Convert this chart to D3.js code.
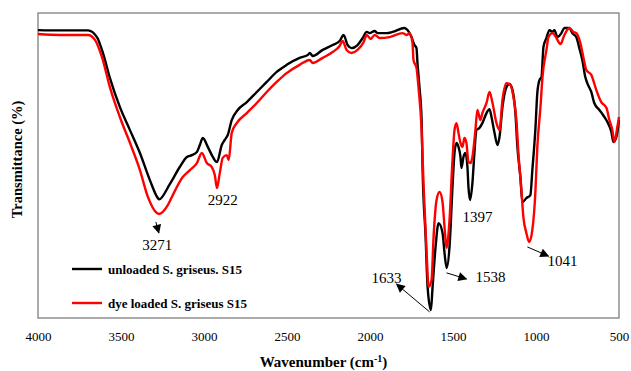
<!DOCTYPE html>
<html>
<head>
<meta charset="utf-8">
<script src="https://cdn.jsdelivr.net/npm/d3@7"></script>
<style>
  html, body { margin: 0; padding: 0; background: #fff; }
  svg { display: block; }
</style>
</head>
<body>
<svg id="chart" width="631" height="371"></svg>
<script>
// FTIR spectra: wavenumber (cm-1) and transmittance (%)
const unloadedWn = [4000,3868,3699,3645,3609,3567,3507,3446,3386,3326,3278,3271,3206,3146,3103,3073,3043,3025,3007,2977,2947,2922,2893,2875,2857,2833,2797,2742,2682,2622,2562,2502,2424,2375,2363,2345,2285,2225,2183,2159,2135,2111,2075,2044,2020,2002,1972,1954,1900,1864,1792,1774,1750,1732,1720,1714,1702,1689,1683,1665,1653,1633,1623,1605,1587,1563,1551,1538,1521,1503,1491,1479,1467,1455,1449,1437,1425,1413,1407,1397,1383,1371,1359,1341,1323,1298,1280,1268,1250,1232,1220,1202,1178,1160,1142,1124,1112,1094,1082,1058,1034,1022,1004,992,979,967,955,937,919,901,889,871,847,829,799,781,757,739,721,703,691,667,649,618,588,570,546,534,516,500];
const unloadedT = [94.4,94.3,94.3,92.1,86.9,78.7,69.2,61.6,54.1,45.2,39.3,38.9,43.9,49.5,52.8,53.4,54.4,56.7,59.0,56.1,52.8,51.1,56.7,58.4,60.0,64.9,68.2,70.8,74.1,77.4,80.7,83.0,85.3,86.2,86.9,85.9,87.9,89.5,90.8,92.8,89.5,88.5,89.5,91.8,93.8,93.4,94.1,93.4,93.4,93.8,95.1,94.4,92.1,89.5,88.5,83.6,75.7,64.9,48.5,26.6,10.2,2.6,10.2,23.3,31.1,27.9,21.3,16.4,23.3,43.0,54.1,57.4,56.1,52.8,49.2,52.8,54.1,49.5,43.0,38.7,44.3,54.1,61.6,62.3,63.9,67.2,68.5,65.9,60.7,56.7,59.3,69.2,75.7,76.7,74.8,67.2,56.1,46.2,38.0,39.3,40.3,48.5,61.6,73.8,78.0,79.0,88.9,91.8,94.4,93.8,94.4,92.1,93.4,95.1,95.1,93.4,92.1,88.5,84.6,79.0,77.0,74.1,70.5,68.2,65.9,64.3,61.0,57.7,59.3,64.9];

const loadedWn = [4000,3868,3699,3657,3615,3567,3507,3446,3386,3338,3284,3271,3218,3188,3128,3085,3043,3013,2983,2953,2935,2922,2905,2887,2863,2851,2833,2803,2742,2682,2622,2562,2502,2424,2363,2345,2285,2225,2183,2165,2141,2111,2075,2038,2020,1996,1972,1942,1882,1804,1780,1762,1744,1738,1720,1708,1689,1677,1659,1647,1629,1617,1599,1581,1563,1551,1539,1521,1503,1491,1479,1467,1455,1443,1431,1419,1407,1395,1383,1365,1353,1335,1323,1298,1280,1262,1238,1220,1202,1178,1154,1136,1118,1106,1088,1076,1058,1041,1022,1004,992,973,961,937,925,901,877,853,829,799,775,757,733,715,697,667,637,607,576,558,540,528,510,500];
const loadedT = [93.1,92.8,92.8,91.2,85.6,75.7,65.9,57.4,48.5,39.7,34.4,34.1,37.0,40.3,46.2,48.5,50.8,54.1,50.8,49.5,46.9,42.6,47.5,52.5,53.4,51.8,60.7,63.9,67.2,70.5,74.1,77.4,80.3,83.0,84.6,83.6,85.3,87.2,89.2,90.8,87.9,86.9,87.9,90.5,92.8,91.5,92.8,91.8,92.1,93.4,92.8,93.4,90.2,84.6,82.0,75.7,61.6,43.0,21.3,10.2,12.5,26.6,38.7,41.3,38.0,29.8,23.0,32.1,51.8,61.6,63.9,60.7,57.4,56.1,59.0,57.4,51.2,50.8,52.8,61.6,68.2,64.9,67.2,70.5,74.1,70.5,63.9,61.6,71.5,77.0,76.4,72.5,64.9,54.1,42.0,33.1,27.9,24.9,28.9,41.0,56.1,69.2,79.0,87.9,92.1,93.4,91.8,89.8,92.8,95.1,93.8,93.4,90.2,85.6,81.3,79.7,74.8,70.8,68.9,64.9,61.6,57.7,62.6,65.9];

const seriesNames = ["unloaded S. griseus. S15", "dye loaded S. griseus S15"];
const seriesColors = ["#000000", "#ff0000"];
const xTicks = [4000, 3500, 3000, 2500, 2000, 1500, 1000, 500];

// Peak labels: text anchor and optional leader arrow, in data units
const peakLabels = ["3271", "2922", "1397", "1633", "1538", "1041"];
const peakTextWn = [3281, 2887, 1353, 1900, 1274, 841];
const peakTextT  = [22.3, 37.0, 31.5, 11.5, 11.8, 17.0];
const arrowFrom = [[3290, 31.5], null, null, [1641, 2.0], [1539, 14.8], [1052, 23.3]];
const arrowTo   = [[3272, 27.9], null, null, [1840, 11.1], [1419, 12.8], [925, 20.3]];

const svg = d3.select("#chart");
const margin = { left: 38, right: 12, top: 13, bottom: 53 };
const W = 631, H = 371;

const x = d3.scaleLinear().domain([4000, 500]).range([margin.left, W - margin.right]);
const y = d3.scaleLinear().domain([0, 100]).range([H - margin.bottom, margin.top]);

const serif = "'Liberation Serif', 'Times New Roman', serif";

// arrowhead marker
svg.append("defs").append("marker")
  .attr("id", "arrowhead")
  .attr("viewBox", "0 0 10 10")
  .attr("refX", 9).attr("refY", 5)
  .attr("markerWidth", 10).attr("markerHeight", 9)
  .attr("markerUnits", "userSpaceOnUse")
  .attr("orient", "auto")
  .append("path").attr("d", "M0,0 L10,5 L0,10 Z").attr("fill", "#000");

// plot frame
svg.append("rect")
  .attr("x", x(4000)).attr("y", y(100))
  .attr("width", x(500) - x(4000)).attr("height", y(0) - y(100))
  .attr("fill", "none").attr("stroke", "#7f7f7f").attr("stroke-width", 1.3);

// x axis tick labels
const xAxis = d3.axisBottom(x).tickValues(xTicks).tickSize(0).tickPadding(14).tickFormat(d3.format("d"));
const gx = svg.append("g").attr("transform", `translate(0,${y(0)})`).call(xAxis);
gx.select(".domain").remove();
gx.selectAll("text").attr("font-family", serif).attr("font-size", 13).attr("fill", "#000");

// spectra
const line = d3.line().x(d => x(d[0])).y(d => y(d[1])).curve(d3.curveMonotoneX);
const series = [d3.zip(unloadedWn, unloadedT), d3.zip(loadedWn, loadedT)];
series.forEach((pts, i) => {
  svg.append("path").datum(pts)
    .attr("d", line)
    .attr("fill", "none")
    .attr("stroke", seriesColors[i])
    .attr("stroke-width", 2.4)
    .attr("stroke-linejoin", "round");
});

// peak annotations
peakLabels.forEach((lab, i) => {
  if (arrowFrom[i]) {
    svg.append("line")
      .attr("x1", x(arrowFrom[i][0])).attr("y1", y(arrowFrom[i][1]))
      .attr("x2", x(arrowTo[i][0])).attr("y2", y(arrowTo[i][1]))
      .attr("stroke", "#000").attr("stroke-width", 1)
      .attr("marker-end", "url(#arrowhead)");
  }
  svg.append("text")
    .attr("x", x(peakTextWn[i])).attr("y", y(peakTextT[i]))
    .attr("text-anchor", "middle")
    .attr("font-family", serif).attr("font-size", 15)
    .attr("fill", "#000")
    .text(lab);
});

// legend
const legend = svg.append("g");
seriesNames.forEach((name, i) => {
  const ly = 269 + i * 34;
  legend.append("line")
    .attr("x1", 72).attr("x2", 102).attr("y1", ly).attr("y2", ly)
    .attr("stroke", seriesColors[i]).attr("stroke-width", 2.4);
  legend.append("text")
    .attr("x", 108).attr("y", ly + 4.5)
    .attr("font-family", serif).attr("font-size", 13).attr("font-weight", "bold")
    .attr("fill", "#000")
    .text(name);
});

// axis titles
svg.append("text")
  .attr("transform", `translate(22,${(y(0) + y(100)) / 2 - 6}) rotate(-90)`)
  .attr("text-anchor", "middle")
  .attr("font-family", serif).attr("font-size", 14.5).attr("font-weight", "bold")
  .text("Transmittance (%)");

const xt = svg.append("text")
  .attr("x", (x(4000) + x(500)) / 2 - 5).attr("y", 367)
  .attr("text-anchor", "middle")
  .attr("font-family", serif).attr("font-size", 15).attr("font-weight", "bold");
xt.append("tspan").text("Wavenumber (cm");
xt.append("tspan").attr("baseline-shift", "super").attr("font-size", 10).text("-1");
xt.append("tspan").text(")");
</script>
</body>
</html>
